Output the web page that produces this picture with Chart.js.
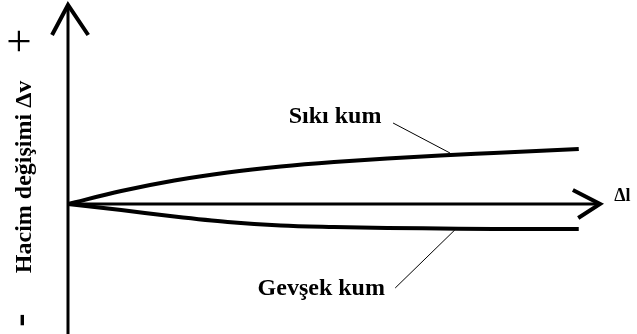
<!DOCTYPE html>
<html>
<head>
<meta charset="utf-8">
<script src="https://cdn.jsdelivr.net/npm/chart.js@4"></script>
<style>
  body { margin: 0; background: #fff; }
  #wrap { width: 637px; height: 334px; position: relative; }
</style>
</head>
<body>
<div id="wrap"><canvas id="chart"></canvas></div>
<script>
// Δl values along the horizontal axis
const dl = [0, 1, 2, 3, 4, 5, 6, 7, 8, 9, 9.6];
// volume change for dense sand (Sıkı kum) and loose sand (Gevşek kum)
const sikiKum = [0, 0.26, 0.47, 0.63, 0.75, 0.84, 0.91, 0.97, 1.02, 1.07, 1.10];
const gevsekKum = [0, -0.12, -0.25, -0.36, -0.43, -0.46, -0.48, -0.49, -0.50, -0.50, -0.50];

// axes drawn as datasets (with arrow heads)
const xAxisLine = [{ x: 0, y: 0 }, { x: 10, y: 0 }];
const yAxisLine = [{ x: 0, y: -2.7 }, { x: 0, y: 3.98 }];
const xArrow = [{ x: 9.49, y: 0.28 }, { x: 10, y: 0 }, { x: 9.59, y: -0.28 }];
const yArrow = [{ x: -0.3, y: 3.38 }, { x: 0, y: 3.98 }, { x: 0.38, y: 3.38 }];

// leader lines for the curve labels
const sikiLeader = [{ x: 6.11, y: 1.62 }, { x: 7.18, y: 1.02 }];
const gevsekLeader = [{ x: 6.15, y: -1.68 }, { x: 7.27, y: -0.52 }];

// text labels: [text, x, y, size, rotated]
const labels = [
  ["Sıkı kum", 5.02, 1.74, 24, false],
  ["Gevşek kum", 4.76, -1.70, 24, false],
  ["Δl", 10.42, 0.16, 18, false],
  ["Hacim değişimi Δv", -0.81, 0.54, 24, true],
  ["+", -0.865, 3.26, 44, true],
  ["-", -0.865, -2.32, 40, true]
];

const toPoints = (xs, ys) => xs.map((x, i) => ({ x, y: ys[i] }));

const lineSet = (data, width, extra) => Object.assign({
  data,
  borderColor: "#000",
  borderWidth: width,
  pointRadius: 0,
  showLine: true,
  fill: false,
  tension: 0
}, extra || {});

// plugin that writes the texts at data positions
const textPlugin = {
  id: "texts",
  afterDatasetsDraw(chart) {
    const c = chart.ctx;
    const xs = chart.scales.x, ys = chart.scales.y;
    c.save();
    c.fillStyle = "#000";
    c.textAlign = "center";
    c.textBaseline = "middle";
    labels.forEach(([t, x, y, size, rot]) => {
      const px = xs.getPixelForValue(x), py = ys.getPixelForValue(y);
      c.font = "bold " + size + "px 'Liberation Serif', serif";
      if (t === "+") c.font = size + "px 'Liberation Serif', serif";
      c.save();
      c.translate(px, py);
      if (rot) c.rotate(-Math.PI / 2);
      c.fillText(t, 0, 0);
      c.restore();
    });
    c.restore();
  }
};

new Chart(document.getElementById("chart"), {
  type: "scatter",
  data: {
    datasets: [
      lineSet(xAxisLine, 3),
      lineSet(yAxisLine, 3),
      lineSet(xArrow, 4, { borderJoinStyle: "miter" }),
      lineSet(yArrow, 4, { borderJoinStyle: "miter" }),
      lineSet(toPoints(dl, sikiKum), 4, { tension: 0.4, cubicInterpolationMode: "monotone" }),
      lineSet(toPoints(dl, gevsekKum), 4, { tension: 0.4, cubicInterpolationMode: "monotone" }),
      lineSet(sikiLeader, 1),
      lineSet(gevsekLeader, 1)
    ]
  },
  options: {
    responsive: true,
    maintainAspectRatio: false,
    animation: false,
    layout: { padding: 0 },
    plugins: {
      legend: { display: false },
      tooltip: { enabled: false }
    },
    scales: {
      x: { type: "linear", display: false, min: -1.278, max: 10.695 },
      y: { type: "linear", display: false, min: -2.6, max: 4.08 }
    }
  },
  plugins: [textPlugin]
});
</script>
</body>
</html>
